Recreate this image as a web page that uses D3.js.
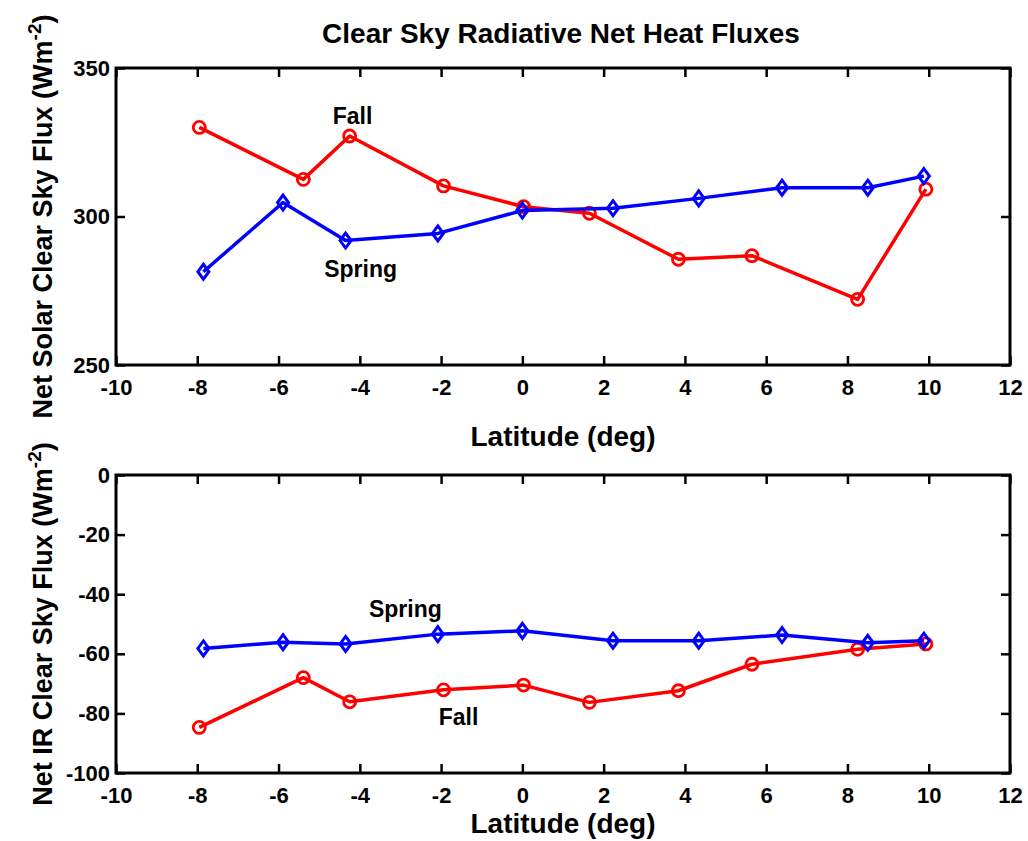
<!DOCTYPE html>
<html lang="en">
<head>
    <meta charset="UTF-8">
    <script type="text/javascript" src="https://d3js.org/d3.v7.min.js"></script>
    <title>Clear Sky Radiative Net Heat Fluxes</title>
    <style>
        body { margin: 0; background: #fff; }
        text { font-family: "Liberation Sans", Arial, sans-serif; fill: #000; }
    </style>
</head>
<body>
    <svg id="svg"></svg>
    <script>
        const width = 1028;
        const height = 841;

        // latitude of each station (deg)
        const fallLat   = [-7.95, -5.39, -4.25, -1.94, 0.03, 1.65, 3.84, 5.65, 8.25, 9.93];
        const springLat = [-7.85, -5.89, -4.35, -2.08, 0.0, 2.23, 4.34, 6.39, 8.5, 9.88];

        // net solar clear sky flux (W m-2)
        const fallSolar   = [330.0, 312.5, 327.1, 310.3, 303.3, 301.1, 285.6, 286.8, 272.1, 309.2];
        const springSolar = [281.4, 304.7, 291.9, 294.3, 302.0, 302.8, 306.1, 309.7, 309.7, 313.6];

        // net IR clear sky flux (W m-2)
        const fallIR   = [-84.7, -68.0, -76.1, -72.1, -70.5, -76.3, -72.4, -63.5, -58.5, -56.7];
        const springIR = [-58.2, -56.1, -56.7, -53.4, -52.3, -55.6, -55.6, -53.7, -56.3, -55.6];

        const xTicks = [-10, -8, -6, -4, -2, 0, 2, 4, 6, 8, 10, 12];
        const solarTicks = [250, 300, 350];
        const irTicks = [-100, -80, -60, -40, -20, 0];

        const svg = d3.select("#svg").attr("width", width).attr("height", height);

        svg.append("text").attr("x", 561).attr("y", 43)
            .attr("text-anchor", "middle").attr("font-size", 28).attr("font-weight", "bold")
            .text("Clear Sky Radiative Net Heat Fluxes");

        const fmt = d => String(d);  // plain hyphen minus like the original

        function styleTicks(a) {
            a.select(".domain").remove();
            a.selectAll("line").attr("stroke", "#000").attr("stroke-width", 2.5);
            a.selectAll("text").attr("font-size", 22).attr("font-weight", "bold")
                .attr("font-family", "Liberation Sans, Arial, sans-serif");
        }

        function panel(opt) {
            const x = d3.scaleLinear().domain([-10, 12]).range([116, 1010]);
            const y = d3.scaleLinear().domain(opt.domain).range([opt.bottom, opt.top]);
            const g = svg.append("g");

            const tickLen = 9;
            g.append("g").attr("transform", `translate(0,${opt.bottom})`)
                .call(d3.axisBottom(x).tickValues(xTicks).tickFormat(fmt).tickSizeInner(-tickLen).tickSizeOuter(0).tickPadding(14))
                .call(styleTicks);
            g.append("g").attr("transform", `translate(0,${opt.top})`)
                .call(d3.axisTop(x).tickValues(xTicks).tickSizeInner(-tickLen).tickSizeOuter(0).tickFormat(""))
                .call(styleTicks);
            g.append("g").attr("transform", `translate(116,0)`)
                .call(d3.axisLeft(y).tickValues(opt.ticks).tickFormat(fmt).tickSizeInner(-tickLen).tickSizeOuter(0).tickPadding(6))
                .call(styleTicks);
            g.append("g").attr("transform", `translate(1010,0)`)
                .call(d3.axisRight(y).tickValues(opt.ticks).tickSizeInner(-tickLen).tickSizeOuter(0).tickFormat(""))
                .call(styleTicks);

            g.append("rect").attr("x", 116).attr("y", opt.top)
                .attr("width", 1010 - 116).attr("height", opt.bottom - opt.top)
                .attr("fill", "none").attr("stroke", "#000").attr("stroke-width", 3);

            const line = d3.line().x(d => x(d[0])).y(d => y(d[1]));

            opt.series.forEach(s => {
                const pts = s.lat.map((l, i) => [l, s.val[i]]);
                g.append("path").attr("d", line(pts))
                    .attr("fill", "none").attr("stroke", s.color).attr("stroke-width", 3.5)
                    .attr("stroke-linejoin", "round");
                if (s.marker === "circle") {
                    g.selectAll(null).data(pts).join("circle")
                        .attr("cx", d => x(d[0])).attr("cy", d => y(d[1])).attr("r", 6)
                        .attr("fill", "none").attr("stroke", s.color).attr("stroke-width", 2.8);
                } else {
                    g.selectAll(null).data(pts).join("path")
                        .attr("d", d => {
                            const cx = x(d[0]), cy = y(d[1]);
                            return `M${cx},${cy - 7.5}L${cx + 5.5},${cy}L${cx},${cy + 7.5}L${cx - 5.5},${cy}Z`;
                        })
                        .attr("fill", "none").attr("stroke", s.color).attr("stroke-width", 3);
                }
            });

            opt.notes.forEach(n => {
                g.append("text").attr("x", x(n.lat)).attr("y", y(n.val))
                    .attr("text-anchor", "middle").attr("font-size", 23).attr("font-weight", "bold")
                    .text(n.text);
            });

            g.append("text").attr("x", 563).attr("y", opt.xlabelY)
                .attr("text-anchor", "middle").attr("font-size", 28).attr("font-weight", "bold")
                .text("Latitude (deg)");

            const yl = g.append("text")
                .attr("transform", `translate(52,${(opt.top + opt.bottom) / 2}) rotate(-90)`)
                .attr("text-anchor", "middle").attr("font-size", 27).attr("font-weight", "bold");
            yl.append("tspan").text(opt.ylabel + " (Wm");
            yl.append("tspan").attr("dy", -11).attr("font-size", 19).text("-2");
            yl.append("tspan").attr("dy", 11).text(")");
        }

        panel({
            top: 68, bottom: 365, domain: [250, 350], ticks: solarTicks,
            ylabel: "Net Solar Clear Sky Flux", xlabelY: 446,
            series: [
                { lat: fallLat, val: fallSolar, color: "#ff0000", marker: "circle" },
                { lat: springLat, val: springSolar, color: "#0000ff", marker: "diamond" }
            ],
            notes: [
                { text: "Fall", lat: -4.18, val: 331 },
                { text: "Spring", lat: -3.98, val: 279.5 }
            ]
        });

        panel({
            top: 475, bottom: 773, domain: [-100, 0], ticks: irTicks,
            ylabel: "Net IR Clear Sky Flux", xlabelY: 833,
            series: [
                { lat: fallLat, val: fallIR, color: "#ff0000", marker: "circle" },
                { lat: springLat, val: springIR, color: "#0000ff", marker: "diamond" }
            ],
            notes: [
                { text: "Spring", lat: -2.88, val: -47.7 },
                { text: "Fall", lat: -1.57, val: -83.9 }
            ]
        });
    </script>
</body>
</html>
